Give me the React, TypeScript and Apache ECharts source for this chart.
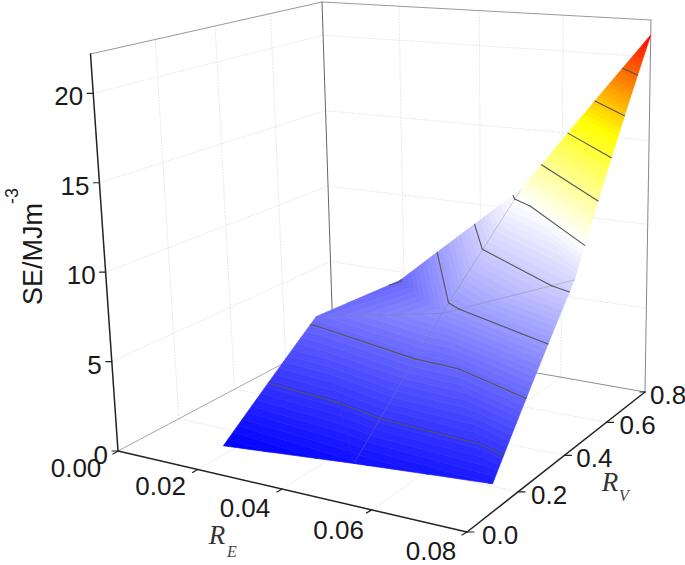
import React, { useEffect, useRef } from "react";
import * as echarts from "echarts";

// ---- data ----
const RE_NODES = [0.019, 0.05, 0.08];
const RV_NODES = [0.1, 0.45, 0.8];
// SE_GRID[rvIndex][reIndex]
const SE_ROW_RV_010 = [0.3, 0.9, 1.4];
const SE_ROW_RV_045 = [4.8, 6.2, 9.2];
const SE_ROW_RV_080 = [4.45, 11.2, 21.3];
const SE_GRID = [SE_ROW_RV_010, SE_ROW_RV_045, SE_ROW_RV_080];
const CONTOUR_LEVELS = [2.4, 4.5, 6.6, 8.7, 10.8, 12.9, 15, 17.1, 19.2];

const RE_TICKS = [0, 0.02, 0.04, 0.06, 0.08];
const RV_TICKS = [0, 0.2, 0.4, 0.6, 0.8];
const SE_TICKS = [0, 5, 10, 15, 20];

const RE_MAX = 0.08;
const RV_MAX = 0.8;
const SE_MAX = 22.2;

// ---- 3D box as it appears on the page: corners at (RE=0,RV=0), (max,0), (max,max), (0,max) ----
const FLOOR_QUAD = [[118, 451], [467, 532], [645, 392], [333, 337]];
const TOP_QUAD = [[90.5, 54], [455, 81], [651, 20], [322, 2]];

// label offsets from their ticks
const RE_LABEL_DX = [-42, -37, -37, -33, -36];
const RE_LABEL_DY = [17, 17, 19, 20, 19];
const RV_LABEL_DX = [15, 13, 12, 13, 5];

// colour map along SE
const COLOR_STOPS: [number, number[]][] = [
  [0.3, [0, 0, 255]],
  [10.8, [255, 255, 255]],
  [16, [255, 255, 0]],
  [21.3, [255, 0, 0]],
];
const BAND_COUNT = 96;

function quadMap(q: number[][]) {
  const [A, B, C, D] = q;
  const dx1 = B[0] - C[0], dy1 = B[1] - C[1];
  const dx2 = D[0] - C[0], dy2 = D[1] - C[1];
  const sx = A[0] - B[0] + C[0] - D[0], sy = A[1] - B[1] + C[1] - D[1];
  const det = dx1 * dy2 - dx2 * dy1;
  const g = (sx * dy2 - dx2 * sy) / det;
  const h = (dx1 * sy - sx * dy1) / det;
  const a = B[0] - A[0] + g * B[0], b = D[0] - A[0] + h * D[0], c = A[0];
  const d = B[1] - A[1] + g * B[1], e = D[1] - A[1] + h * D[1], f = A[1];
  return (s: number, t: number) => {
    const w = g * s + h * t + 1;
    return [(a * s + b * t + c) / w, (d * s + e * t + f) / w];
  };
}
const floorMap = quadMap(FLOOR_QUAD);
const topMap = quadMap(TOP_QUAD);

function project(re: number, rv: number, se: number) {
  const s = re / RE_MAX, t = rv / RV_MAX, k = se / SE_MAX;
  const F = floorMap(s, t), T = topMap(s, t);
  return [F[0] + (T[0] - F[0]) * k, F[1] + (T[1] - F[1]) * k];
}

type P3 = number[];
function buildTriangles(): P3[][] {
  const tris: P3[][] = [];
  for (let j = 0; j < RV_NODES.length - 1; j++) {
    for (let i = 0; i < RE_NODES.length - 1; i++) {
      const n = (ii: number, jj: number): P3 => [RE_NODES[ii], RV_NODES[jj], SE_GRID[jj][ii]];
      tris.push([n(i, j), n(i + 1, j), n(i, j + 1)]);
      tris.push([n(i + 1, j), n(i + 1, j + 1), n(i, j + 1)]);
    }
  }
  return tris;
}
const lerp3 = (a: P3, b: P3, k: number): P3 => a.map((v, i) => v + (b[i] - v) * k);

function clipAbove(poly: P3[], z: number, keepAbove: boolean): P3[] {
  const out: P3[] = [];
  const inside = (p: P3) => (keepAbove ? p[2] >= z : p[2] <= z);
  poly.forEach((p, i) => {
    const q = poly[(i + 1) % poly.length];
    if (inside(p)) out.push(p);
    if (inside(p) !== inside(q)) out.push(lerp3(p, q, (z - p[2]) / (q[2] - p[2])));
  });
  return out;
}
function colorAt(z: number) {
  for (let i = 0; i < COLOR_STOPS.length - 1; i++) {
    const [z0, c0] = COLOR_STOPS[i], [z1, c1] = COLOR_STOPS[i + 1];
    if (z <= z1 || i === COLOR_STOPS.length - 2) {
      const k = Math.max(0, Math.min(1, (z - z0) / (z1 - z0)));
      return `rgb(${c0.map((v, n) => Math.round(v + (c1[n] - v) * k)).join(",")})`;
    }
  }
  return "#000";
}

const triangles = buildTriangles();
const zLo = COLOR_STOPS[0][0], zHi = COLOR_STOPS[COLOR_STOPS.length - 1][0];

const bands: { pts: P3[]; color: string }[] = [];
triangles.forEach((tri) => {
  for (let b = 0; b < BAND_COUNT; b++) {
    const z0 = zLo + ((zHi - zLo) * b) / BAND_COUNT;
    const z1 = zLo + ((zHi - zLo) * (b + 1)) / BAND_COUNT;
    let poly = clipAbove(tri, b === 0 ? -1 : z0, true);
    if (poly.length) poly = clipAbove(poly, b === BAND_COUNT - 1 ? 99 : z1, false);
    if (poly.length >= 3) bands.push({ pts: poly, color: colorAt((z0 + z1) / 2) });
  }
});

const contours: P3[][] = [];
triangles.forEach((tri) => {
  CONTOUR_LEVELS.forEach((z) => {
    const hit: P3[] = [];
    tri.forEach((p, i) => {
      const q = tri[(i + 1) % 3];
      if (p[2] < z !== q[2] < z) hit.push(lerp3(p, q, (z - p[2]) / (q[2] - p[2])));
    });
    if (hit.length === 2) contours.push(hit);
  });
});

type Seg = { pts: number[][]; color: string; width: number; dash?: number[] };
const backGrid: Seg[] = [];
const GRID_COLOR = "#dedede";
const addGrid = (a: number[], b: number[]) =>
  backGrid.push({ pts: [a, b], color: GRID_COLOR, width: 0.8, dash: [1, 2] });
RE_TICKS.slice(1, -1).forEach((re) => {
  addGrid(project(re, 0, 0), project(re, RV_MAX, 0));
  addGrid(project(re, RV_MAX, 0), project(re, RV_MAX, SE_MAX));
});
RV_TICKS.slice(1, -1).forEach((rv) => {
  addGrid(project(0, rv, 0), project(RE_MAX, rv, 0));
  addGrid(project(0, rv, 0), project(0, rv, SE_MAX));
});
SE_TICKS.slice(1).forEach((se) => {
  addGrid(project(0, 0, se), project(0, RV_MAX, se));
  addGrid(project(0, RV_MAX, se), project(RE_MAX, RV_MAX, se));
});

const frame: Seg[] = [
  { pts: [project(0, 0, 0), project(0, RV_MAX, 0)], color: "#a8a8a8", width: 1 },
  { pts: [project(0, RV_MAX, 0), project(RE_MAX, RV_MAX, 0)], color: "#8c8c8c", width: 1 },
  { pts: [project(0, RV_MAX, 0), project(0, RV_MAX, SE_MAX)], color: "#666", width: 1 },
  { pts: [project(RE_MAX, RV_MAX, 0), project(RE_MAX, RV_MAX, SE_MAX)], color: "#888", width: 1 },
  { pts: [project(0, 0, SE_MAX), project(0, RV_MAX, SE_MAX)], color: "#999", width: 1 },
  { pts: [project(0, RV_MAX, SE_MAX), project(RE_MAX, RV_MAX, SE_MAX)], color: "#999", width: 1 },
];
const frontAxes: Seg[] = [
  { pts: [project(0, 0, 0), project(0, 0, SE_MAX)], color: "#222", width: 1.5 },
  { pts: [project(0, 0, 0), project(RE_MAX, 0, 0)], color: "#222", width: 1.5 },
  { pts: [project(RE_MAX, 0, 0), project(RE_MAX, RV_MAX, 0)], color: "#222", width: 1.5 },
];
const shift = (p: number[], dx: number, dy: number) => [p[0] + dx, p[1] + dy];
SE_TICKS.forEach((se) => {
  const p = project(0, 0, se);
  frontAxes.push({ pts: [p, shift(p, -6, 0)], color: "#222", width: 1.2 });
});
RE_TICKS.forEach((re) => {
  const p = project(re, 0, 0);
  frontAxes.push({ pts: [p, shift(p, -5, 3)], color: "#222", width: 1.2 });
});
RV_TICKS.forEach((rv) => {
  const p = project(RE_MAX, rv, 0);
  frontAxes.push({ pts: [p, shift(p, rv === RV_MAX ? -5 : 7, 0)], color: "#222", width: 1.2 });
});

// thin mesh lines on the surface, at the middle nodes
const meshLines: P3[][] = [];
RE_NODES.slice(1, -1).forEach((re) => {
  const i = RE_NODES.indexOf(re);
  for (let j = 0; j < RV_NODES.length - 1; j++)
    meshLines.push([[re, RV_NODES[j], SE_GRID[j][i]], [re, RV_NODES[j + 1], SE_GRID[j + 1][i]]]);
});
RV_NODES.slice(1, -1).forEach((rv) => {
  const j = RV_NODES.indexOf(rv);
  for (let i = 0; i < RE_NODES.length - 1; i++)
    meshLines.push([[RE_NODES[i], rv, SE_GRID[j][i]], [RE_NODES[i + 1], rv, SE_GRID[j][i + 1]]]);
});

const FONT = '"Liberation Sans"';
const SERIF = '"Liberation Serif"';
const TXT = "#1a1a1a";
function tickText(text: string, p: number[], align: string) {
  return {
    type: "text",
    x: p[0],
    y: p[1],
    silent: true,
    style: { text, fontSize: 26, fontFamily: FONT, fill: TXT, align, verticalAlign: "middle" },
  };
}
function plainText(text: string, x: number, y: number, fontSize: number, family: string, fill: string, extra: any = {}) {
  const { rotation, ...style } = extra;
  return {
    type: "text", x, y, rotation: rotation || 0, silent: true,
    style: { text, fontSize, fontFamily: family, fill, align: "center", verticalAlign: "middle", ...style },
  };
}

function segSeries(items: Seg[], z: number) {
  return {
    type: "custom",
    z,
    silent: true,
    data: items.map((_, i) => [i, 0]),
    renderItem: (params: any, api: any) => {
      const s = items[params.dataIndex];
      const a = api.coord(s.pts[0]), b = api.coord(s.pts[1]);
      return {
        type: "line",
        shape: { x1: a[0], y1: a[1], x2: b[0], y2: b[1] },
        style: { stroke: s.color, lineWidth: s.width, lineDash: s.dash, lineCap: "round", fill: null },
      };
    },
  };
}

export default function App() {
  const ref = useRef<HTMLDivElement>(null);
  useEffect(() => {
    document.body.style.margin = "0";
    const chart = echarts.init(ref.current!, undefined, { renderer: "svg" });
    const labelGraphics: any[] = [
      ...SE_TICKS.map((v) => tickText(String(v), shift(project(0, 0, v), -10, v === 0 ? 4 : 3), "right")),
      ...RE_TICKS.map((v, i) => tickText(v.toFixed(2), shift(project(v, 0, 0), RE_LABEL_DX[i], RE_LABEL_DY[i]), "center")),
      ...RV_TICKS.map((v, i) => tickText(v.toFixed(1), shift(project(RE_MAX, v, 0), RV_LABEL_DX[i], 3), "left")),
      plainText("SE/MJm", 33, 254, 27, FONT, TXT, { rotation: Math.PI / 2 }),
      plainText("-3", 12, 196, 18, FONT, TXT, { rotation: Math.PI / 2 }),
      plainText("R", 217, 535, 27, SERIF, "#333", { fontStyle: "italic" }),
      plainText("E", 232, 551, 16, SERIF, "#444", { fontStyle: "italic" }),
      plainText("R", 610, 482, 27, SERIF, "#333", { fontStyle: "italic" }),
      plainText("V", 624, 495, 16, SERIF, "#444", { fontStyle: "italic" }),
    ];
    chart.setOption({
      animation: false,
      backgroundColor: "#fff",
      grid: { left: 0, top: 0, width: 685, height: 565 },
      xAxis: { type: "value", min: 0, max: 685, show: false },
      yAxis: { type: "value", min: 0, max: 565, inverse: true, show: false },
      graphic: labelGraphics,
      series: [
        segSeries(backGrid, 1),
        segSeries(frame, 2),
        {
          type: "custom",
          z: 3,
          silent: true,
          data: bands.map((_, i) => [i, 0]),
          renderItem: (params: any, api: any) => {
            const b = bands[params.dataIndex];
            return {
              type: "polygon",
              shape: { points: b.pts.map((p) => api.coord(project(p[0], p[1], p[2]))) },
              style: { fill: b.color, stroke: b.color, lineWidth: 0.7 },
            };
          },
        },
        segSeries(
          meshLines.map((m) => ({
            pts: [project(m[0][0], m[0][1], m[0][2]), project(m[1][0], m[1][1], m[1][2])],
            color: "rgba(120,120,120,0.5)",
            width: 0.7,
          })),
          4
        ),
        segSeries(
          contours.map((c) => ({
            pts: [project(c[0][0], c[0][1], c[0][2]), project(c[1][0], c[1][1], c[1][2])],
            color: "#555",
            width: 1.1,
          })),
          5
        ),
        segSeries(frontAxes, 6),
      ],
    });
    return () => chart.dispose();
  }, []);
  return <div ref={ref} style={{ width: 685, height: 565 }} />;
}
